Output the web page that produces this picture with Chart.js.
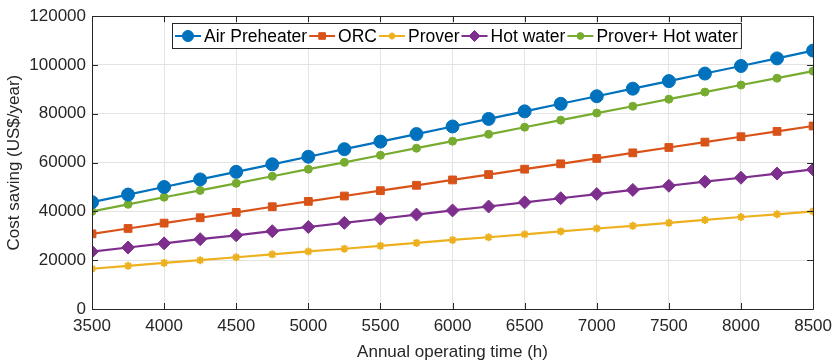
<!DOCTYPE html>
<html>
<head>
<meta charset="utf-8">
<script src="https://cdn.jsdelivr.net/npm/chart.js@4.4.1/dist/chart.umd.min.js"></script>
<style>
  html, body { margin: 0; padding: 0; background: #fff; }
  #wrap { width: 839px; height: 363px; position: relative; }
</style>
</head>
<body>
<div id="wrap"><canvas id="savingChart"></canvas></div>
<script>
// Annual operating hours
const hours = [3500, 3750, 4000, 4250, 4500, 4750, 5000, 5250, 5500, 5750, 6000,
               6250, 6500, 6750, 7000, 7250, 7500, 7750, 8000, 8250, 8500];

// Cost saving (US$/year) per option
const airPreheater = [43800, 46900, 50000, 53100, 56200, 59300, 62400, 65500, 68600, 71700, 74800,
                      77900, 81000, 84100, 87200, 90300, 93400, 96500, 99600, 102700, 105900];
const orc = [30800, 33000, 35200, 37400, 39600, 41900, 44100, 46300, 48500, 50700, 52900,
             55100, 57300, 59500, 61700, 64000, 66200, 68400, 70600, 72800, 75000];
const prover = [16500, 17700, 18900, 20000, 21200, 22400, 23600, 24700, 25900, 27100, 28300,
                29400, 30600, 31800, 33000, 34100, 35300, 36500, 37700, 38800, 40000];
const hotWater = [23500, 25200, 26900, 28600, 30200, 31900, 33600, 35300, 37000, 38700, 40400,
                  42000, 43700, 45400, 47100, 48800, 50500, 52200, 53800, 55500, 57200];
const proverHotWater = [40000, 42900, 45800, 48600, 51500, 54400, 57300, 60100, 63000, 65900, 68800,
                        71600, 74500, 77400, 80300, 83100, 86000, 88900, 91800, 94600, 97500];

const xTicks = [3500, 4000, 4500, 5000, 5500, 6000, 6500, 7000, 7500, 8000, 8500];
const yTicks = [0, 20000, 40000, 60000, 80000, 100000, 120000];

const FONT = '"Liberation Sans", Arial, Helvetica, sans-serif';

function pairs(ys) {
    return hours.map((h, i) => ({ x: h, y: ys[i] }));
}

function series(label, ys, color, style, radius) {
    return {
        label: label,
        data: pairs(ys),
        borderColor: color,
        backgroundColor: color,
        pointBackgroundColor: color,
        pointBorderColor: color,
        pointStyle: style,
        pointRadius: radius,
        pointBorderWidth: style === 'star' ? 2 : 1,
        borderWidth: 2.2,
        tension: 0,
        fill: false
    };
}

// Axes box with inward tick marks, plus a boxed legend inside the plot
const framePlugin = {
    id: 'frame',
    afterDraw(chart) {
        const ctx = chart.ctx;
        const a = chart.chartArea;
        const xs = chart.scales.x, ys = chart.scales.y;
        ctx.save();
        ctx.strokeStyle = '#262626';
        ctx.lineWidth = 1;
        ctx.beginPath();
        ctx.rect(Math.round(a.left) + 0.5, Math.round(a.top) + 0.5,
                 Math.round(a.right - a.left), Math.round(a.bottom - a.top));
        const tl = 6;
        xTicks.forEach(v => {
            const px = Math.round(xs.getPixelForValue(v)) + 0.5;
            ctx.moveTo(px, a.bottom); ctx.lineTo(px, a.bottom - tl);
            ctx.moveTo(px, a.top); ctx.lineTo(px, a.top + tl);
        });
        yTicks.forEach(v => {
            const py = Math.round(ys.getPixelForValue(v)) + 0.5;
            ctx.moveTo(a.left, py); ctx.lineTo(a.left + tl, py);
            ctx.moveTo(a.right, py); ctx.lineTo(a.right - tl, py);
        });
        ctx.stroke();

        // legend
        const bx = 172, by = 23, bh = 25;
        ctx.font = '17.5px ' + FONT;
        const lineLen = 26;
        let x = bx + 3;
        const items = chart.data.datasets.map(ds => {
            const w = ctx.measureText(ds.label).width;
            const it = { ds, x, w };
            x += lineLen + 3 + w + 2;
            return it;
        });
        const bw = x - bx + 1;
        ctx.fillStyle = '#fff';
        ctx.fillRect(bx, by, bw, bh);
        ctx.strokeStyle = '#262626';
        ctx.lineWidth = 1;
        ctx.strokeRect(bx + 0.5, by + 0.5, bw, bh);
        const cy = by + bh / 2 + 0.5;
        items.forEach(it => {
            const ds = it.ds;
            ctx.strokeStyle = ds.borderColor;
            ctx.lineWidth = 2;
            ctx.beginPath();
            ctx.moveTo(it.x, cy); ctx.lineTo(it.x + lineLen, cy);
            ctx.stroke();
            ctx.fillStyle = ds.borderColor;
            ctx.lineWidth = ds.pointBorderWidth;
            Chart.helpers.drawPoint(ctx, {
                pointStyle: ds.pointStyle,
                radius: ds.pointRadius * 0.85,
                borderWidth: ds.pointBorderWidth,
                rotation: 0
            }, it.x + lineLen / 2, cy);
            ctx.fillStyle = '#000';
            ctx.textBaseline = 'middle';
            ctx.textAlign = 'left';
            ctx.fillText(ds.label, it.x + lineLen + 3, cy + 1);
        });
        ctx.restore();
    }
};

new Chart(document.getElementById('savingChart'), {
    type: 'line',
    data: {
        datasets: [
            series('Air Preheater', airPreheater, '#0072BD', 'circle', 6.5),
            series('ORC', orc, '#D95319', 'rect', 5.5),
            series('Prover', prover, '#EDB120', 'star', 4),
            series('Hot water', hotWater, '#7E2F8E', 'rectRot', 6.5),
            series('Prover+ Hot water', proverHotWater, '#77AC30', 'circle', 4)
        ]
    },
    options: {
        responsive: true,
        maintainAspectRatio: false,
        animation: false,
        layout: { padding: { left: 0, right: 19, top: 15, bottom: 0 } },
        plugins: {
            legend: { display: false },
            tooltip: { enabled: false }
        },
        scales: {
            x: {
                type: 'linear',
                min: 3500,
                max: 8500,
                afterFit(scale) { scale.height = 54; },
                afterBuildTicks(scale) { scale.ticks = xTicks.map(v => ({ value: v })); },
                ticks: {
                    color: '#262626',
                    font: { family: FONT, size: 17 },
                    padding: 7,
                    maxRotation: 0,
                    callback: v => String(v)
                },
                grid: { color: '#e3e3e3', drawTicks: false },
                border: { display: false },
                title: {
                    display: true,
                    text: 'Annual operating time (h)',
                    color: '#262626',
                    font: { family: FONT, size: 17 },
                    padding: { top: 0, bottom: 0 }
                }
            },
            y: {
                min: 0,
                max: 120000,
                afterFit(scale) { scale.width = 92; },
                afterBuildTicks(scale) { scale.ticks = yTicks.map(v => ({ value: v })); },
                ticks: {
                    color: '#262626',
                    font: { family: FONT, size: 17 },
                    padding: 6,
                    callback: v => String(v)
                },
                grid: { color: '#e3e3e3', drawTicks: false },
                border: { display: false },
                title: {
                    display: true,
                    text: 'Cost saving (US$/year)',
                    color: '#262626',
                    font: { family: FONT, size: 17 },
                    padding: { top: 4, bottom: 0 }
                }
            }
        }
    },
    plugins: [framePlugin]
});
</script>
</body>
</html>
